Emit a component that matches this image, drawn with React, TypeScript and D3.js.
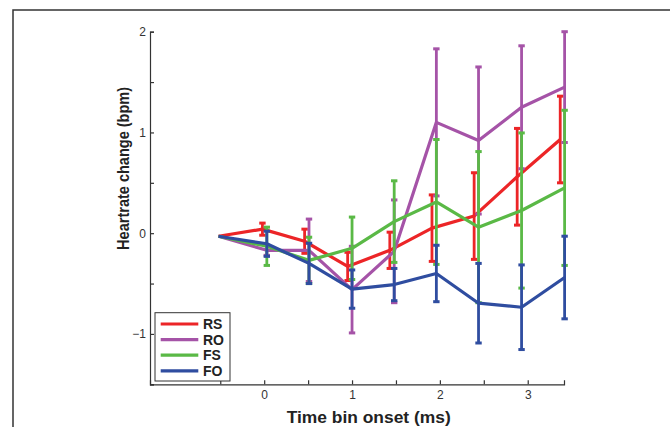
import React, { useEffect, useRef } from 'react';
import * as d3 from 'd3';

// time bin positions (the RS series is drawn slightly to the left)
const timeBins = [-0.52, 0.03, 0.51, 1.0, 1.48, 1.96, 2.44, 2.93, 3.42];
const timeBinsRS = [-0.52, -0.02, 0.46, 0.95, 1.43, 1.91, 2.39, 2.88, 3.37];

// mean heartrate change and error per condition
const rsMean = [-0.03, 0.04, -0.08, -0.33, -0.17, 0.05, 0.17, 0.56, 0.93];
const rsErr = [0, 0.06, 0.12, 0.14, 0.18, 0.33, 0.43, 0.48, 0.43];
const roMean = [-0.03, -0.17, -0.17, -0.56, -0.18, 1.1, 0.92, 1.25, 1.45];
const roErr = [0, 0.05, 0.31, 0.43, 0.51, 0.73, 0.73, 0.61, 0.55];
const fsMean = [-0.03, -0.13, -0.27, -0.15, 0.115, 0.31, 0.06, 0.225, 0.45];
const fsErr = [0, 0.19, 0.23, 0.31, 0.405, 0.62, 0.75, 0.77, 0.77];
const foMean = [-0.03, -0.105, -0.3, -0.555, -0.51, -0.4, -0.695, -0.735, -0.44];
const foErr = [0, 0.125, 0.2, 0.19, 0.16, 0.28, 0.395, 0.42, 0.41];

const seriesNames = ['RS', 'RO', 'FS', 'FO'];
const seriesColors = ['#ec2527', '#a553a7', '#5ab946', '#2f4da0'];

const xTicks = [-0.5, 0, 0.5, 1, 1.5, 2, 2.5, 3];
const yTicks = [-1.5, -1, -0.5, 0, 0.5, 1, 1.5, 2];

const FONT = '"Liberation Sans", Arial, Helvetica, sans-serif';

export default function App() {
  const xAxisRef = useRef<SVGGElement>(null);
  const yAxisRef = useRef<SVGGElement>(null);

  const x = d3.scaleLinear().domain([-1.3, 3.413]).range([150, 564]);
  const y = d3.scaleLinear().domain([-1.5, 2]).range([384.3, 31.7]);

  const series = [
    { xs: timeBinsRS, mean: rsMean, err: rsErr },
    { xs: timeBins, mean: roMean, err: roErr },
    { xs: timeBins, mean: fsMean, err: fsErr },
    { xs: timeBins, mean: foMean, err: foErr },
  ];

  const line = d3.line<[number, number]>()
    .x(d => x(d[0]))
    .y(d => y(d[1]));

  useEffect(() => {
    // label only the whole numbers, like the original
    const fmt = (d: any) => (Number.isInteger(d) ? d3.format('d')(d).replace('-', '\u2212') : '');

    const xa = d3.select(xAxisRef.current);
    xa.call(d3.axisBottom(x).tickValues(xTicks).tickSizeInner(-4).tickSizeOuter(-4).tickPadding(6).tickFormat(fmt));
    const ya = d3.select(yAxisRef.current);
    ya.call(d3.axisLeft(y).tickValues(yTicks).tickSizeInner(-4).tickSizeOuter(-4).tickPadding(4).tickFormat(fmt));

    [xa, ya].forEach(a => {
      a.select('.domain').attr('stroke', '#333').attr('stroke-width', 1.2);
      a.selectAll('.tick line').attr('stroke', '#333').attr('stroke-width', 1.2);
      a.selectAll('.tick text')
        .attr('fill', '#333')
        .style('font-family', FONT)
        .style('font-size', '12px');
    });
  }, []);

  return (
    <svg width={670} height={427} style={{ position: 'absolute', left: 0, top: 0, background: '#fff' }}>
      {/* figure frame */}
      <path d="M13,427 V10 H670" fill="none" stroke="#333" strokeWidth={1.5} />

      <g ref={xAxisRef} transform={`translate(0,${y(-1.5)})`} />
      <g ref={yAxisRef} transform={`translate(${x(-1.3)},0)`} />

      {series.map((s, i) => (
        <g key={seriesNames[i]} stroke={seriesColors[i]} fill="none">
          {s.mean.map((m, j) => {
            if (!s.err[j]) return null;
            const cx = x(s.xs[j]);
            const top = y(m + s.err[j]);
            const bot = y(m - s.err[j]);
            return (
              <g key={j} strokeWidth={2.8}>
                <line x1={cx} x2={cx} y1={top} y2={bot} />
                <line x1={cx - 3.2} x2={cx + 3.2} y1={top} y2={top} strokeWidth={3} />
                <line x1={cx - 3.2} x2={cx + 3.2} y1={bot} y2={bot} strokeWidth={3} />
              </g>
            );
          })}
          <path d={line(s.mean.map((m, j) => [s.xs[j], m]) as [number, number][]) || ''} strokeWidth={3.2} strokeLinejoin="round" />
        </g>
      ))}

      {/* legend */}
      <g>
        <rect x={155} y={312.7} width={75} height={68.3} fill="#fff" stroke="#333" strokeWidth={1} />
        {seriesNames.map((name, i) => {
          const ly = 324 + i * 15.6;
          return (
            <g key={name}>
              <line x1={160.7} x2={198.3} y1={ly} y2={ly} stroke={seriesColors[i]} strokeWidth={3.2} />
              <text x={203} y={ly} dy="0.36em" fontFamily={FONT} fontSize={14} fontWeight="bold" fill="#222">
                {name}
              </text>
            </g>
          );
        })}
      </g>

      {/* axis titles */}
      <text x={368.7} y={423} textAnchor="middle" fontFamily={FONT} fontSize={17} fontWeight="bold" fill="#222"
        textLength={164} lengthAdjust="spacingAndGlyphs">
        Time bin onset (ms)
      </text>
      <text transform="translate(129,168.4) rotate(-90)" textAnchor="middle" fontFamily={FONT} fontSize={16}
        fontWeight="bold" fill="#222" textLength={163} lengthAdjust="spacingAndGlyphs">
        Heartrate change (bpm)
      </text>
    </svg>
  );
}
